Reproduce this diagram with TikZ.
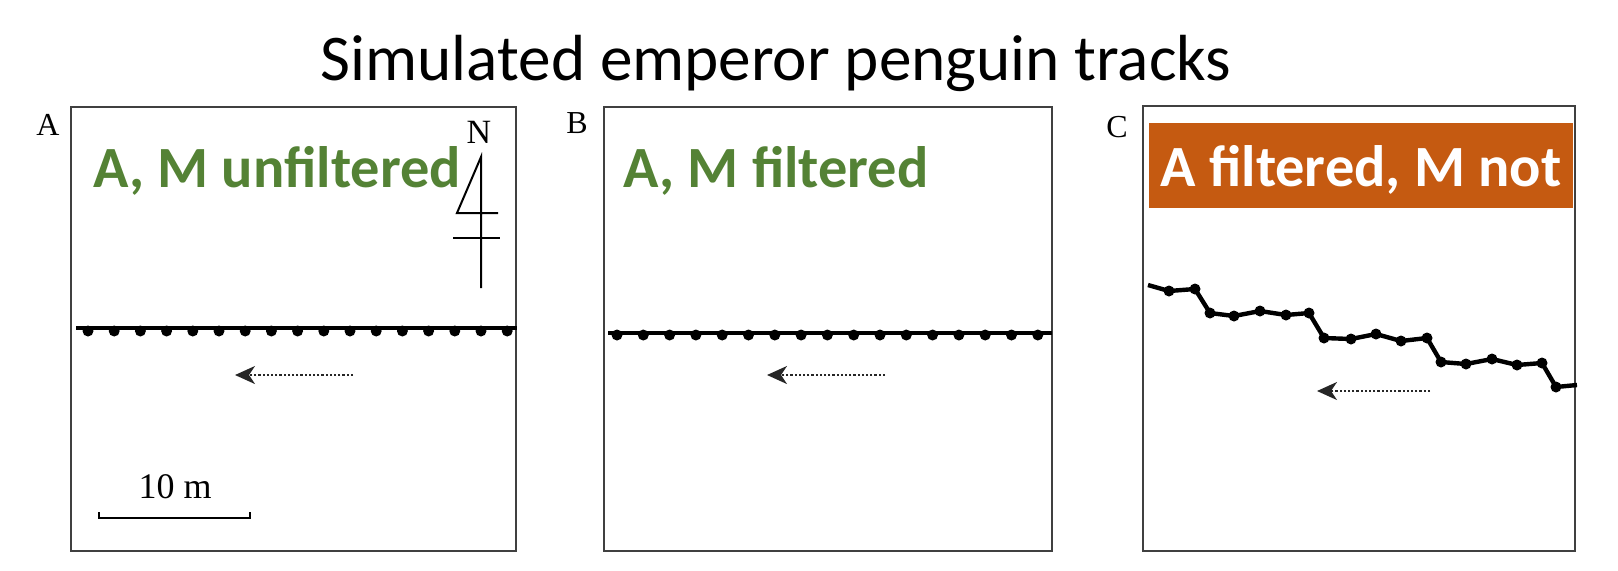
\documentclass[tikz,border=0pt]{standalone}
\usepackage{fontspec}
\setmainfont{Carlito}
\newfontfamily\figfont{Liberation Serif}
\usepackage{tikz}
\usetikzlibrary{positioning, calc, arrows.meta}
\definecolor{labelgreen}{HTML}{548235}
\definecolor{labelorange}{HTML}{C55A11}

\begin{document}
\begin{tikzpicture}[x=0.5pt, y=-0.5pt]
        % Define block styles
        \tikzstyle{panel} = [rectangle, draw=black!75, line width=1pt, inner sep=0pt]
        \tikzstyle{letter} = [font=\figfont\fontsize{16}{16}\selectfont, inner sep=0pt]
        \tikzstyle{caption} = [font=\bfseries\fontsize{29.2}{29}\selectfont, text=labelgreen, inner sep=0pt, anchor=base west]
        \tikzstyle{trackdot} = [circle, fill=black, inner sep=0pt, minimum size=5.5pt]
        \tikzstyle{track} = [line width=2.2pt, line join=round]
        \tikzstyle{heading} = [-{Stealth[length=10pt, width=9pt, inset=3pt]}, densely dotted, line width=1.1pt, black!85]

        \useasboundingbox (0,0) rectangle (1618,570);

        % Place nodes
        \node[font=\fontsize{32.6}{33}\selectfont, anchor=base, inner sep=0pt] (title) at (776,80) {Simulated emperor penguin tracks};

        \node[panel, minimum width=222.5pt, minimum height=222pt] (panelA) at (293.5,329) {};
        \node[panel, minimum width=224pt, minimum height=222pt] (panelB) at (828,329) {};
        \node[panel, minimum width=216pt, minimum height=222.5pt] (panelC) at (1359,328.5) {};

        \node[letter] (letterA) at (48,125) {A};
        \node[letter] (letterB) at (577,123) {B};
        \node[letter] (letterC) at (1117,127) {C};

        \node[caption] (captionA) at (93,187) {A, M unfiltered};
        \node[caption] (captionB) at (623,187) {A, M filtered};
        \node[caption, fill=labelorange, text=white, anchor=center, text depth=0pt, minimum width=212pt, minimum height=42.5pt] (captionC) at (1361,165.5) {A filtered, M not};

        % North arrow and scale bar
        \node[letter, font=\figfont\fontsize{17}{17}\selectfont] (north) at (479,132) {N};
        \coordinate (needle foot) at (481,288);
        \coordinate (needle tip) at (481,157);
        \draw[line width=1pt] (needle foot) -- (needle tip) -- (457,213) -- (498,213);
        \draw[line width=1pt] (453,238) -- (500,238);

        \node[letter, font=\figfont\fontsize{18}{18}\selectfont] (scale) at (175,487) {10 m};
        \draw[line width=1pt] (99,512) -- (99,518) -- (250,518) -- (250,512);

        % Draw the tracks
        \draw[track] (76,328) -- (517,328);
        \foreach \i in {0,...,16}
            \node[trackdot] (dotA\i) at (88+26.2*\i,331) {};

        \draw[track] (608,333) -- (1052,333);
        \foreach \i in {0,...,16}
            \node[trackdot] (dotB\i) at (617+26.3*\i,335) {};

        \draw[track] (1148,285) -- (1169,291) -- (1195,289) -- (1210,313) -- (1234,316) -- (1260,311) -- (1286,315) -- (1309,313) -- (1324,338) -- (1351,339) -- (1376,334) -- (1401,341) -- (1427,338) -- (1441,362) -- (1466,364) -- (1492,359) -- (1517,365) -- (1542,363) -- (1556,387) -- (1577,385);
        \foreach \x/\y [count=\n] in {1169/291, 1195/289, 1210/313, 1234/316, 1260/311, 1286/315, 1309/313, 1324/338, 1351/339, 1376/334, 1401/341, 1427/338, 1441/362, 1466/364, 1492/359, 1517/365, 1542/363, 1556/387}
            \node[trackdot] (dotC\n) at (\x,\y) {};

        % Draw heading arrows
        \coordinate (headA start) at (353,375);
        \coordinate (headA end) at (235,375);
        \coordinate (headB start) at (885,375);
        \coordinate (headB end) at (767,375);
        \coordinate (headC start) at (1430,391);
        \coordinate (headC end) at (1317,391);
        \draw[heading] (headA start) -- (headA end);
        \draw[heading] (headB start) -- (headB end);
        \draw[heading] (headC start) -- (headC end);
    \end{tikzpicture}
\end{document}
